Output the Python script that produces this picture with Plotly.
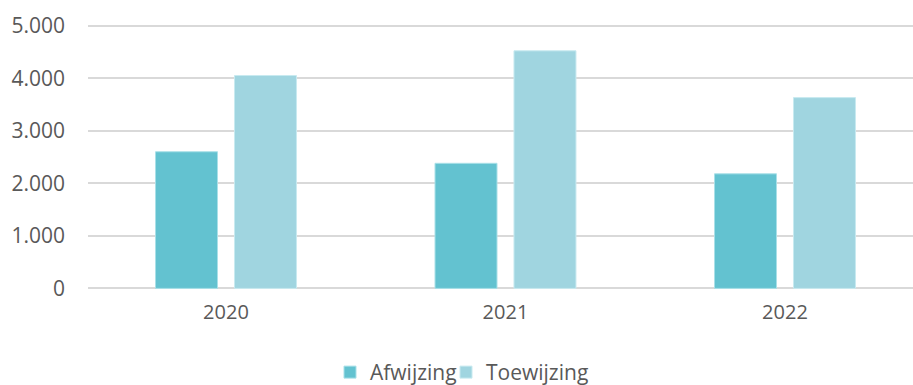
import plotly.graph_objects as go

years = ["2020", "2021", "2022"]
afwijzing = [2600, 2380, 2180]
toewijzing = [4050, 4520, 3630]
y_ticks = [0, 1000, 2000, 3000, 4000, 5000]

fig = go.Figure()
fig.add_trace(go.Bar(name="Afwijzing", x=years, y=afwijzing, legend="legend",
                     marker=dict(color="#63C2D0", line=dict(color="#A9E0E8", width=1))))
fig.add_trace(go.Bar(name="Toewijzing", x=years, y=toewijzing, legend="legend2",
                     marker=dict(color="#A0D5E0", line=dict(color="#C8EAF0", width=1))))

font_fam = "Open Sans"
leg_common = dict(orientation="h", yanchor="middle", y=-0.31, xanchor="left",
                  font=dict(size=21, color="#595959"), itemwidth=30, borderwidth=0,
                  bgcolor="rgba(0,0,0,0)")
fig.update_layout(
    width=913, height=385,
    margin=dict(l=88, r=0, t=24, b=95, autoexpand=False),
    paper_bgcolor="white", plot_bgcolor="white",
    barmode="group", bargap=0.435, bargroupgap=0.215,
    separators=",.",
    font=dict(family=font_fam, size=20, color="#595959"),
    showlegend=True,
    legend=dict(x=(330 - 88) / 825, **leg_common),
    legend2=dict(x=(446 - 88) / 825, **leg_common),
    xaxis=dict(range=[-0.4937, 2.458], showgrid=False, showline=False, ticks="",
               tickfont=dict(size=20, color="#595959"), ticklabelstandoff=8),
    yaxis=dict(range=[-30, 5030], tickvals=y_ticks, separatethousands=True, tickformat=",d",
               showgrid=True, gridcolor="#D9D9D9", gridwidth=1.5, zeroline=False,
               showline=False, ticks="", tickfont=dict(size=21, color="#595959"),
               ticklabelstandoff=22),
)
fig.write_html("out.html", config={"displayModeBar": False},
               post_script="document.body.style.margin='0';document.body.style.overflow='hidden';")
